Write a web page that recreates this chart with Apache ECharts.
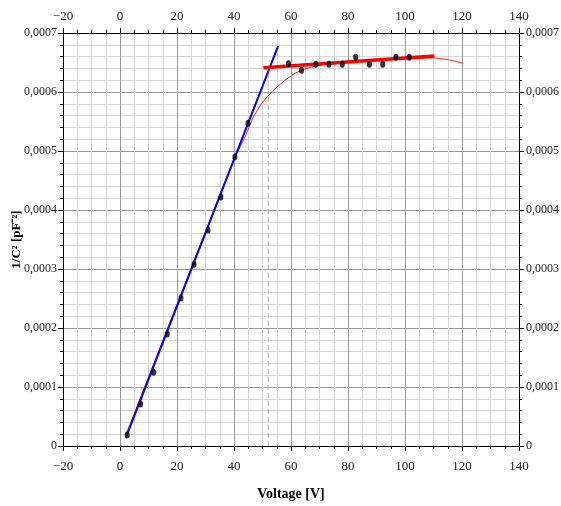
<!DOCTYPE html>
<html>
<head>
<meta charset="utf-8">
<script src="https://cdn.jsdelivr.net/npm/echarts@6/dist/echarts.min.js"></script>
<style>
  html, body { margin: 0; padding: 0; background: #fff; }
  #chart { width: 561px; height: 506px; }
</style>
</head>
<body>
<div id="chart"></div>
<script>
// measured points: voltage [V] and 1/C^2 [pF^-2]
var voltage = [2.5, 7.2, 11.8, 16.6, 21.4, 26.0, 30.9, 35.4, 40.3, 44.9,
               59.1, 63.7, 68.7, 73.3, 78.0, 82.7, 87.5, 92.2, 96.8, 101.5];
var invC2 = [0.0000186, 0.0000712, 0.000125, 0.000190, 0.000251, 0.000308, 0.000366, 0.000422, 0.000490, 0.000547,
             0.000648, 0.000637, 0.000647, 0.000647, 0.000647, 0.000659, 0.000647, 0.000647, 0.000659, 0.000659];

// thin red curve
var curveX = [2.3, 40.1, 43.9, 46.8, 49.7, 53.8, 57.9, 61.4, 64.9, 68.4, 73.1, 80, 90, 100, 110, 115.2, 120.2];
var curveY = [0.000022, 0.000488, 0.000524, 0.000558, 0.000581, 0.000603, 0.000620, 0.000632, 0.000639, 0.000644,
              0.000647, 0.000651, 0.000654, 0.000656, 0.000658, 0.000655, 0.000649];

// linear fits
var fitLowX = [2.1, 55.5];
var fitLowY = [0.0000147, 0.000678];
var fitHighX = [50.3, 110.3];
var fitHighY = [0.000641, 0.000661];
var markerX = [52, 52];
var markerY = [0, 0.000642];

function pairs(xs, ys) {
    return xs.map(function (x, i) { return [x, ys[i]]; });
}

function yFmt(v) {
    if (v === 0) return '0';
    return v.toFixed(4).replace('.', ',');
}
function xFmt(v) {
    return String(v).replace('-', '\u2212');
}

var font = 'Liberation Serif';
var chart = echarts.init(document.getElementById('chart'));

var xBase = {
    type: 'value',
    min: -20,
    max: 140,
    interval: 20,
    axisLine: { show: true, onZero: false, lineStyle: { color: '#000', width: 1 } },
    axisTick: { show: true, inside: false, length: 5, lineStyle: { color: '#000' } },
    minorTick: { show: true, splitNumber: 4, length: 3, lineStyle: { color: '#000' } },
    axisLabel: { color: '#222', fontFamily: font, fontSize: 13, formatter: xFmt }
};
var yBase = {
    type: 'value',
    min: 0,
    max: 0.0007,
    interval: 0.0001,
    axisLine: { show: true, onZero: false, lineStyle: { color: '#000', width: 1 } },
    axisTick: { show: true, inside: false, length: 5, lineStyle: { color: '#000' } },
    minorTick: { show: true, splitNumber: 5, length: 3, lineStyle: { color: '#000' } },
    axisLabel: { color: '#222', fontFamily: font, fontSize: 12, formatter: yFmt }
};

var option = {
    animation: false,
    backgroundColor: '#fff',
    grid: { left: 63, right: 42, top: 33, bottom: 60, containLabel: false, outerBoundsMode: 'none' },
    xAxis: [
        Object.assign({}, xBase, {
            position: 'bottom',
            name: 'Voltage [V]',
            nameLocation: 'middle',
            nameGap: 41,
            nameMoveOverlap: false,
            nameTextStyle: { color: '#000', fontFamily: font, fontSize: 14, fontWeight: 'bold' },
            axisLabel: Object.assign({}, xBase.axisLabel, { margin: 14 }),
            splitLine: { show: true, lineStyle: { color: '#999', width: 1 } },
            minorSplitLine: { show: true, lineStyle: { color: '#d6d6d6', width: 1 } }
        }),
        Object.assign({}, xBase, {
            position: 'top',
            axisLabel: Object.assign({}, xBase.axisLabel, { margin: 10 }),
            splitLine: { show: false }
        })
    ],
    yAxis: [
        Object.assign({}, yBase, {
            position: 'left',
            name: '1/C² [pF⁻²]',
            nameLocation: 'middle',
            nameGap: 40,
            nameRotate: 90,
            nameMoveOverlap: false,
            nameTextStyle: { color: '#000', fontFamily: font, fontSize: 13, fontWeight: 'bold' },
            axisLabel: Object.assign({}, yBase.axisLabel, { margin: 6 }),
            splitLine: { show: true, lineStyle: { color: '#999', width: 1 } },
            minorSplitLine: { show: true, lineStyle: { color: '#d6d6d6', width: 1 } }
        }),
        Object.assign({}, yBase, {
            position: 'right',
            axisLabel: Object.assign({}, yBase.axisLabel, { margin: 7 }),
            splitLine: { show: false }
        })
    ],
    series: [
        {
            type: 'line',
            data: pairs(markerX, markerY),
            symbol: 'none',
            lineStyle: { color: '#b0b0b0', width: 1, type: [5, 3] }
        },
        {
            type: 'line',
            data: pairs(curveX, curveY),
            symbol: 'none',
            lineStyle: { color: '#ff2020', width: 1 }
        },
        {
            type: 'line',
            data: pairs(fitLowX, fitLowY),
            symbol: 'none',
            lineStyle: { color: '#0000ff', width: 2 }
        },
        {
            type: 'line',
            data: pairs(fitHighX, fitHighY),
            symbol: 'none',
            lineStyle: { color: '#ff0000', width: 3.5 }
        },
        {
            type: 'scatter',
            data: pairs(voltage, invC2),
            symbol: 'circle',
            symbolSize: [5, 7],
            itemStyle: { color: '#000' },
            z: 5
        }
    ]
};

chart.setOption(option);
</script>
</body>
</html>
